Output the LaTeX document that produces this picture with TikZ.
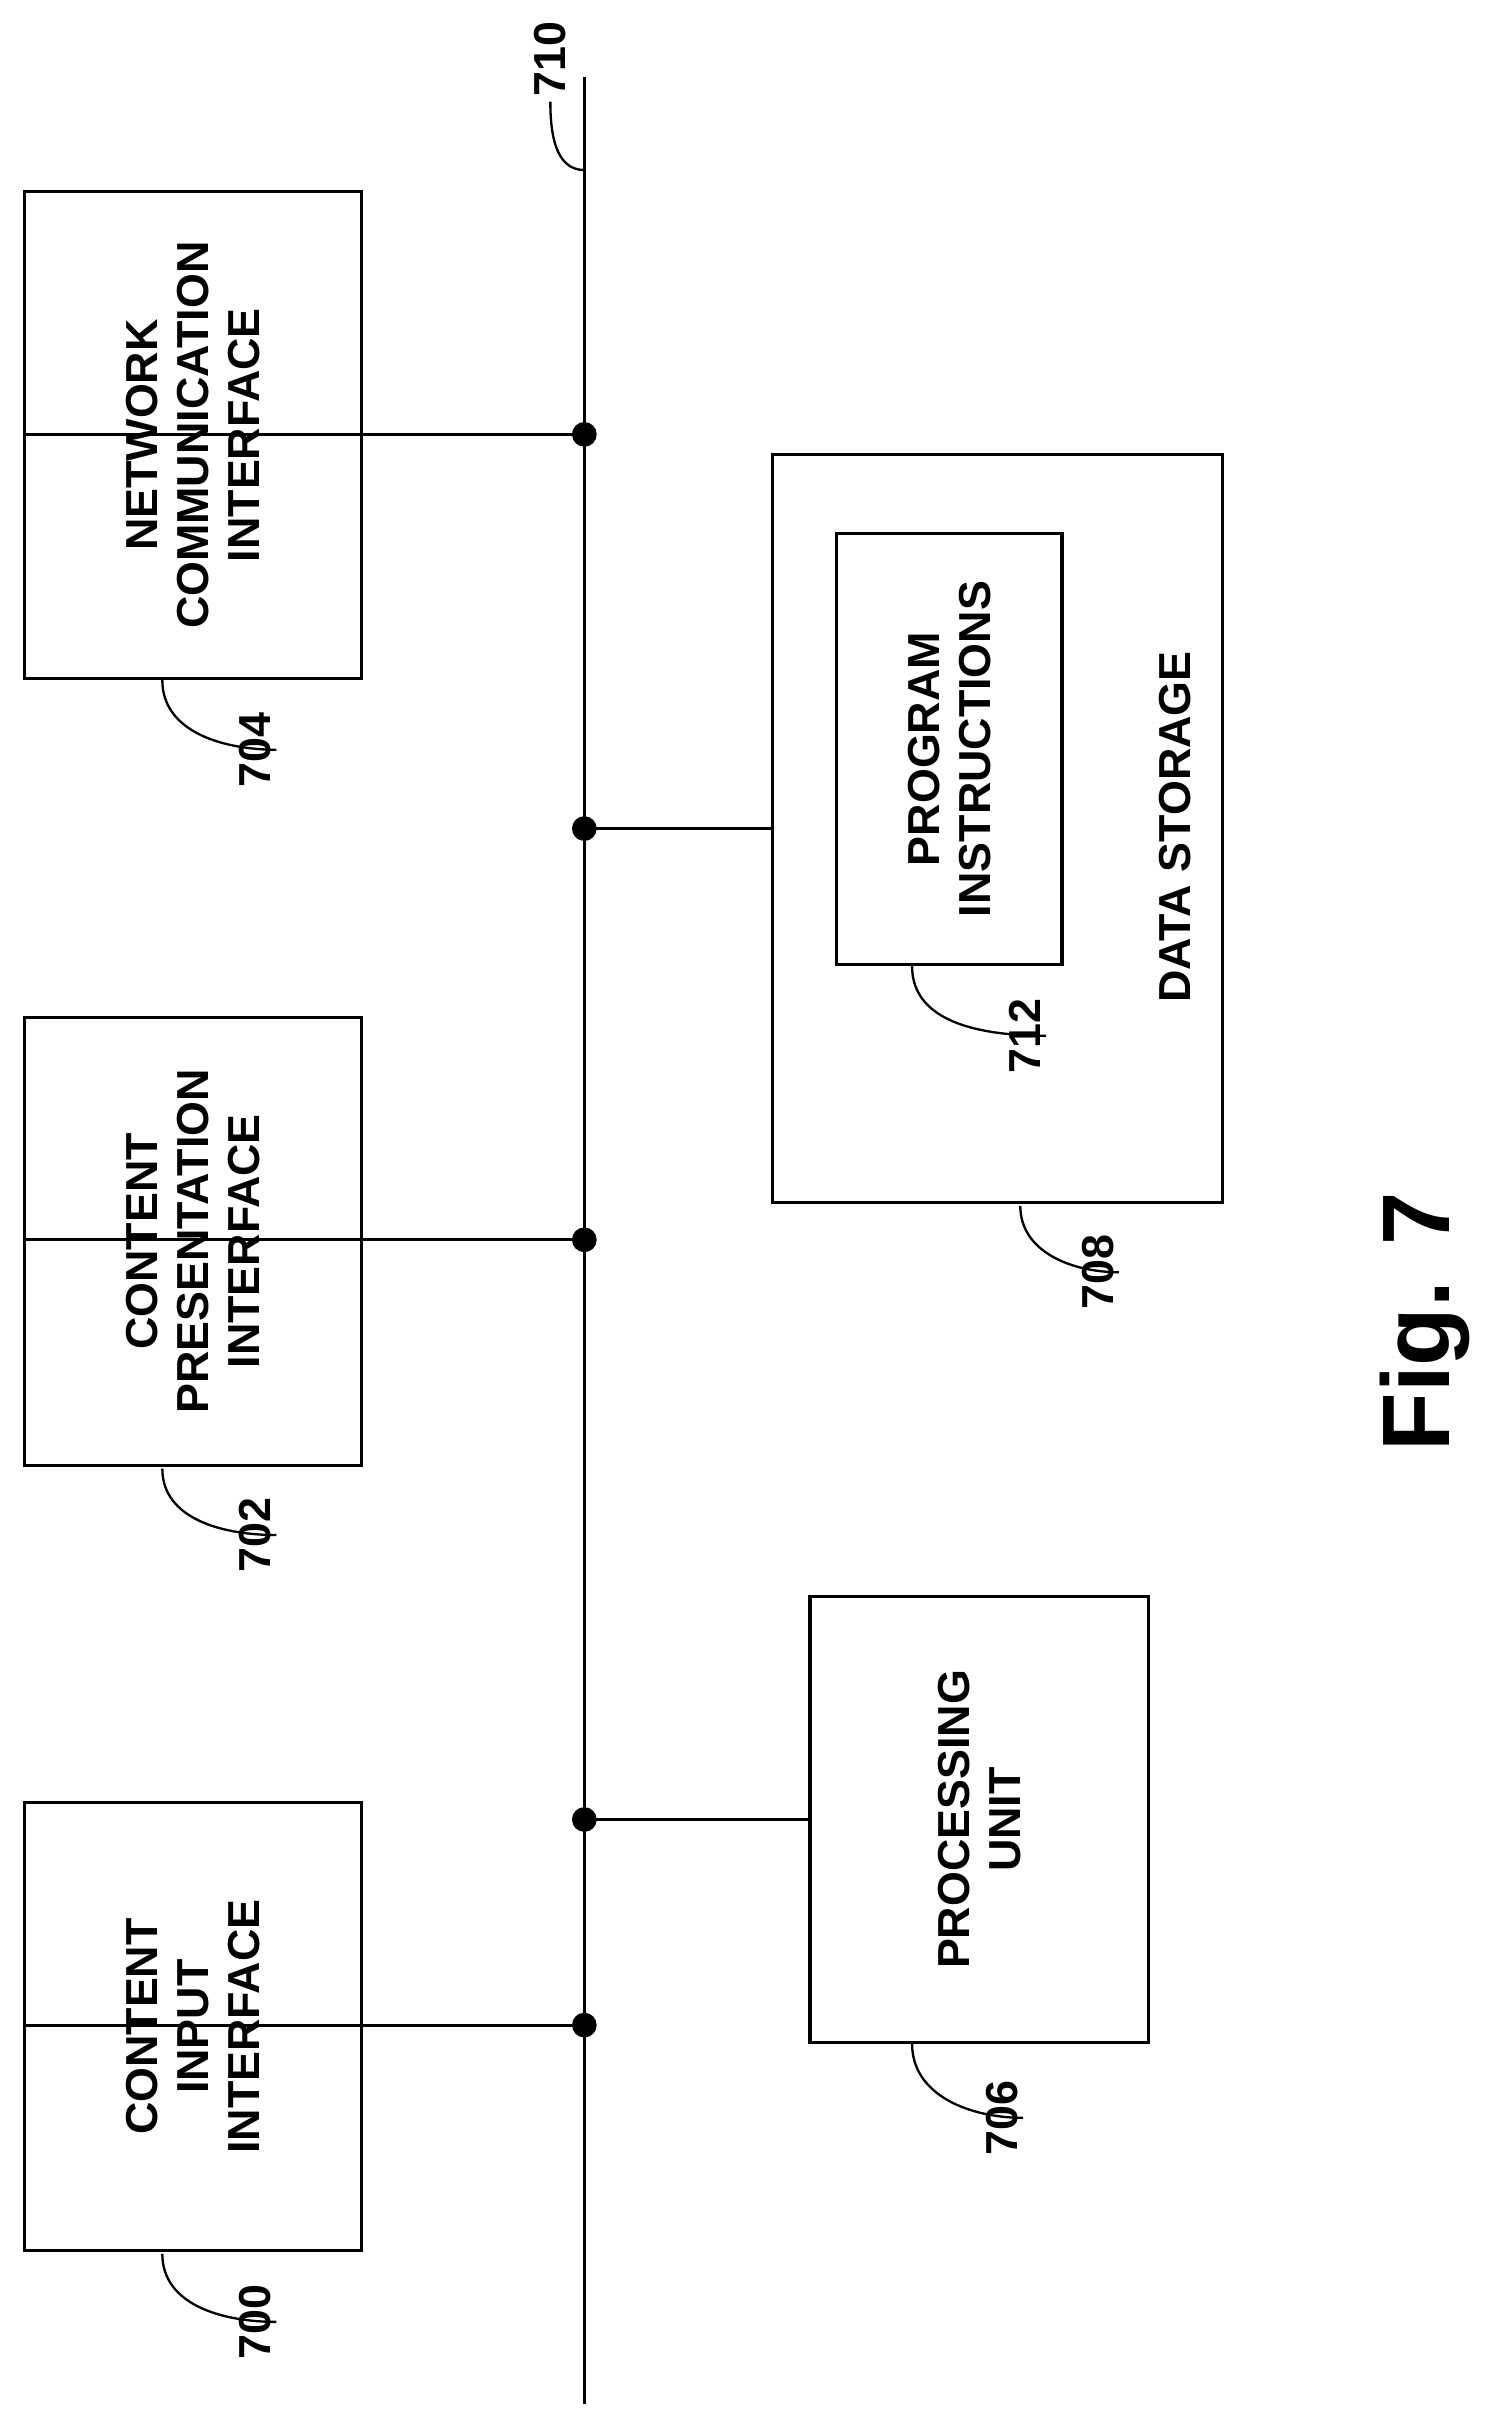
\documentclass[tikz,border=0pt]{standalone}
\usepackage{fontspec}
\setmainfont{Liberation Sans}
\usetikzlibrary{positioning,calc}
\tikzset{
  blk/.style={draw, line width=2pt, anchor=north west},
  lbl/.style={font=\bfseries\fontsize{29}{33}\selectfont, rotate=90, align=center},
  num/.style={font=\bfseries\fontsize{29}{33}\selectfont, rotate=90},
  dot/.style={fill, circle, inner sep=0pt, minimum size=16pt},
  lead/.style={line width=1.5pt}
}
\begin{document}
\begin{tikzpicture}[x=1pt,y=-1pt]
		\useasboundingbox (0,0) rectangle (970,1570);
		% bus
		\coordinate (bt) at (378,50);
		\coordinate (bb) at (378,1555);
		\draw [line width=2pt] (bt) -- (bb);
		\node [num](n710) at (356,38) {710};
		\draw [lead] (378,110) to [out=180,in=-90] (n710.west);
		% boxes
		\node [blk, minimum width=218pt, minimum height=315pt](b704) at (15,123) {};
		\node [lbl] at (b704.center) {NETWORK\\COMMUNICATION\\INTERFACE};
		\node [blk, minimum width=218pt, minimum height=290pt](b702) at (15,657) {};
		\node [lbl] at (b702.center) {CONTENT\\PRESENTATION\\INTERFACE};
		\node [blk, minimum width=218pt, minimum height=290pt](b700) at (15,1165) {};
		\node [lbl] at (b700.center) {CONTENT\\INPUT\\INTERFACE};
		\node [blk, minimum width=219pt, minimum height=288pt](b706) at (523,1032) {};
		\node [lbl] at (b706.center) {PROCESSING\\UNIT};
		\node [blk, minimum width=291pt, minimum height=484pt](b708) at (499,293) {};
		\node [blk, minimum width=146pt, minimum height=279pt](b712) at (540,344) {};
		\node [lbl] at (b712.center) {PROGRAM\\INSTRUCTIONS};
		\node [lbl](ds) at (760,535) {DATA STORAGE};
		% bus taps
		\foreach \b/\y in {b704/281, b702/802, b700/1310, b706/1177, b708/536} {
			\coordinate (t\b) at (378,\y);
			\node [dot] at (t\b) {};
			\draw [line width=2pt] (t\b) -- (\b.west |- t\b);
		}
		% reference numerals
		\node [num](n704) at (165,485) {704};
		\node [num](n702) at (165,993) {702};
		\node [num](n700) at (165,1502) {700};
		\node [num](n706) at (648,1370) {706};
		\node [num](n708) at (710,823) {708};
		\node [num](n712) at (663,670) {712};
		\draw [lead] (105,440) to [out=-90,in=180] (n704.south);
		\draw [lead] (105,950) to [out=-90,in=180] (n702.south);
		\draw [lead] (105,1458) to [out=-90,in=180] (n700.south);
		\draw [lead] (590,1322) to [out=-90,in=180] (n706.south);
		\draw [lead] (660,780) to [out=-90,in=180] (n708.south);
		\draw [lead] (590,625) to [out=-90,in=180] (n712.south);
		\node [rotate=90, font=\bfseries\fontsize{62}{70}\selectfont](fig) at (922,855) {Fig. 7};
\end{tikzpicture}
\end{document}
